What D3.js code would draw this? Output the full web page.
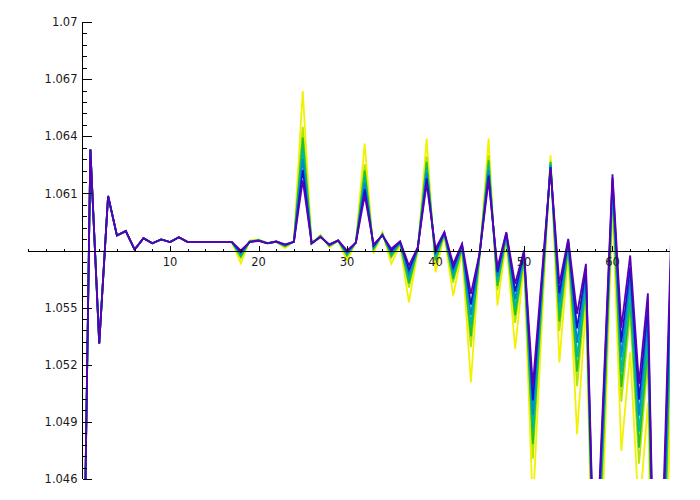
<!DOCTYPE html>
<html>
<head>
<meta charset="utf-8">
<script src="https://cdn.jsdelivr.net/npm/d3@7"></script>
<style>
html,body{margin:0;padding:0;background:#fff;}
text{font-family:"DejaVu Sans",sans-serif;font-size:11.5px;fill:#1a1a1a;}
</style>
</head>
<body>
<svg id="chart" width="700" height="500"></svg>
<script>
// x positions (step index) 0..67
const xValues = d3.range(0, 68);

// values identical for every series, x = 0..17
const sharedHead = [1.032, 1.0633, 1.05312, 1.06086, 1.05879, 1.05902, 1.05805, 1.05865, 1.05838, 1.05858,
  1.05844, 1.0587, 1.05844, 1.05844, 1.05844, 1.05844, 1.05844, 1.05844];

// per-series values, x = 18..67
const yellowTail = [1.05733,1.05853,1.05858,1.0584,1.05845,1.05812,1.0585,1.06637,1.05835,1.05883,
  1.05817,1.0585,1.05747,1.05845,1.06362,1.05783,1.05896,1.0573,1.05826,1.05528,
  1.058,1.06388,1.05686,1.05879,1.05563,1.05791,1.05107,1.0578,1.06388,1.05511,
  1.05853,1.05283,1.0573,1.0445,1.054,1.063,1.05212,1.05783,1.04835,1.055,
  1.0357,1.0459,1.0605,1.04747,1.05265,1.044,1.05,1.028,1.04,1.058];
const yellowGreenTail = [1.0576,1.05849,1.05855,1.05839,1.05846,1.0582,1.05848,1.06449,1.05836,1.05878,
  1.05823,1.05851,1.05768,1.05843,1.06253,1.05803,1.05889,1.05762,1.05835,1.05605,
  1.05807,1.06293,1.05735,1.05886,1.0563,1.05809,1.05293,1.05784,1.063,1.05591,
  1.0587,1.0542,1.05758,1.04706,1.05504,1.06272,1.05377,1.05814,1.05088,1.05592,
  1.03742,1.0479,1.0611,1.05006,1.05469,1.0468,1.0523,1.03008,1.04352,1.06068];
const greenTail = [1.05768,1.05848,1.05854,1.05839,1.05846,1.05822,1.05848,1.06393,1.05837,1.05876,
  1.05825,1.05852,1.05775,1.05842,1.0622,1.05808,1.05887,1.05771,1.05838,1.05628,
  1.05809,1.06265,1.0575,1.05888,1.0565,1.05814,1.05349,1.05785,1.06274,1.05614,
  1.05875,1.05461,1.05766,1.04783,1.05535,1.06264,1.05427,1.05824,1.05164,1.0562,
  1.03794,1.0485,1.06128,1.05084,1.0553,1.04764,1.05299,1.0307,1.04458,1.06148];
const tealTail = [1.05776,1.05847,1.05854,1.05839,1.05846,1.05825,1.05847,1.06337,1.05837,1.05875,
  1.05827,1.05852,1.05781,1.05842,1.06187,1.05814,1.05885,1.05781,1.05841,1.05652,
  1.05811,1.06236,1.05765,1.0589,1.0567,1.05819,1.05405,1.05786,1.06247,1.05638,
  1.05881,1.05502,1.05775,1.0486,1.05566,1.06255,1.05476,1.05833,1.05239,1.05647,
  1.03845,1.0491,1.06146,1.05162,1.05591,1.04848,1.05368,1.03133,1.04563,1.06229];
const cyanTail = [1.05784,1.05846,1.05853,1.05838,1.05847,1.05827,1.05847,1.06281,1.05837,1.05873,
  1.05828,1.05852,1.05787,1.05841,1.06155,1.0582,1.05883,1.0579,1.05843,1.05675,
  1.05813,1.06208,1.05779,1.05892,1.0569,1.05824,1.0546,1.05788,1.06221,1.05662,
  1.05886,1.05543,1.05783,1.04936,1.05598,1.06247,1.05526,1.05842,1.05315,1.05675,
  1.03897,1.0497,1.06164,1.05239,1.05652,1.04932,1.05437,1.03195,1.04669,1.06309];
const blueTail = [1.05792,1.05845,1.05852,1.05838,1.05847,1.0583,1.05846,1.06224,1.05838,1.05872,
  1.0583,1.05853,1.05794,1.05841,1.06122,1.05826,1.05881,1.058,1.05846,1.05698,
  1.05815,1.06179,1.05794,1.05894,1.0571,1.0583,1.05516,1.05789,1.06194,1.05686,
  1.05891,1.05584,1.05792,1.05013,1.05629,1.06238,1.05575,1.05852,1.05391,1.05702,
  1.03948,1.0503,1.06182,1.05317,1.05713,1.05016,1.05506,1.03258,1.04774,1.0639];
const purpleTail = [1.058,1.05844,1.05851,1.05838,1.05847,1.05832,1.05846,1.06168,1.05838,1.0587,
  1.05832,1.05853,1.058,1.0584,1.06089,1.05832,1.05879,1.05809,1.05849,1.05721,
  1.05817,1.06151,1.05809,1.05896,1.0573,1.05835,1.05572,1.0579,1.06168,1.0571,
  1.05896,1.05625,1.058,1.0509,1.0566,1.0623,1.05625,1.05861,1.05467,1.0573,
  1.04,1.0509,1.062,1.05395,1.05774,1.051,1.05575,1.0332,1.0488,1.0647];

const seriesTails = [yellowTail, yellowGreenTail, greenTail, tealTail, cyanTail, blueTail, purpleTail];
const seriesColors = ["#f2f200", "#b4e400", "#22c322", "#00b8a0", "#0088d0", "#1414c8", "#5a00b4"];

const yMajorTicks = [1.046, 1.049, 1.052, 1.055, 1.061, 1.064, 1.067, 1.07];
const xMajorTicks = [10, 20, 30, 40, 50, 60];

const svg = d3.select("#chart");
const x = d3.scaleLinear().domain([-6.05, 66.5]).range([28, 670]);
const y = d3.scaleLinear().domain([1.046, 1.07]).range([479, 22]);
const axisY = 1.058;

svg.append("defs").append("clipPath").attr("id", "clip")
  .append("rect").attr("x", x(-6.05)).attr("y", y(1.07))
  .attr("width", x(66.5) - x(-6.05)).attr("height", y(1.046) - y(1.07));

const line = d3.line().x((d, i) => x(xValues[i])).y(d => y(d));
const g = svg.append("g").attr("clip-path", "url(#clip)");
seriesTails.forEach((tail, k) => {
  const vals = sharedHead.concat(tail);
  g.append("path").attr("d", line(vals)).attr("fill", "none")
    .attr("stroke", seriesColors[k]).attr("stroke-width", 1.8);
});

// axes
const ax = svg.append("g").attr("stroke", "#000").attr("shape-rendering", "crispEdges");
const x0 = Math.round(x(0)) + 0.5;
const yA = Math.round(y(axisY)) + 0.5;
ax.append("line").attr("x1", x0).attr("x2", x0).attr("y1", y(1.07)).attr("y2", y(1.046)).attr("stroke-width", 1.2);
ax.append("line").attr("x1", x(-6.05)).attr("x2", x(66.5)).attr("y1", yA).attr("y2", yA).attr("stroke-width", 1.2);

// y ticks
const yMinor = d3.range(0, 41).map(i => 1.046 + i * 0.0006);
yMinor.forEach(v => {
  const py = Math.round(y(v)) + 0.5;
  ax.append("line").attr("x1", x0).attr("x2", x0 + 4).attr("y1", py).attr("y2", py);
});
yMajorTicks.forEach(v => {
  const py = Math.round(y(v)) + 0.5;
  ax.append("line").attr("x1", x0).attr("x2", x0 + 9).attr("y1", py).attr("y2", py);
  svg.append("text").attr("x", 77.5).attr("y", y(v)).attr("dy", "0.36em")
    .attr("text-anchor", "end").text(d3.format(".4~f")(v));
});

// x ticks
const xMinor = d3.range(-6, 67, 2);
xMinor.forEach(v => {
  const px = Math.round(x(v)) + 0.5;
  ax.append("line").attr("x1", px).attr("x2", px).attr("y1", yA).attr("y2", yA - 3);
});
xMajorTicks.forEach(v => {
  const px = Math.round(x(v)) + 0.5;
  ax.append("line").attr("x1", px).attr("x2", px).attr("y1", yA).attr("y2", yA - 6);
  svg.append("text").attr("x", x(v)).attr("y", 265.5).attr("text-anchor", "middle").text(v);
});
</script>
</body>
</html>
